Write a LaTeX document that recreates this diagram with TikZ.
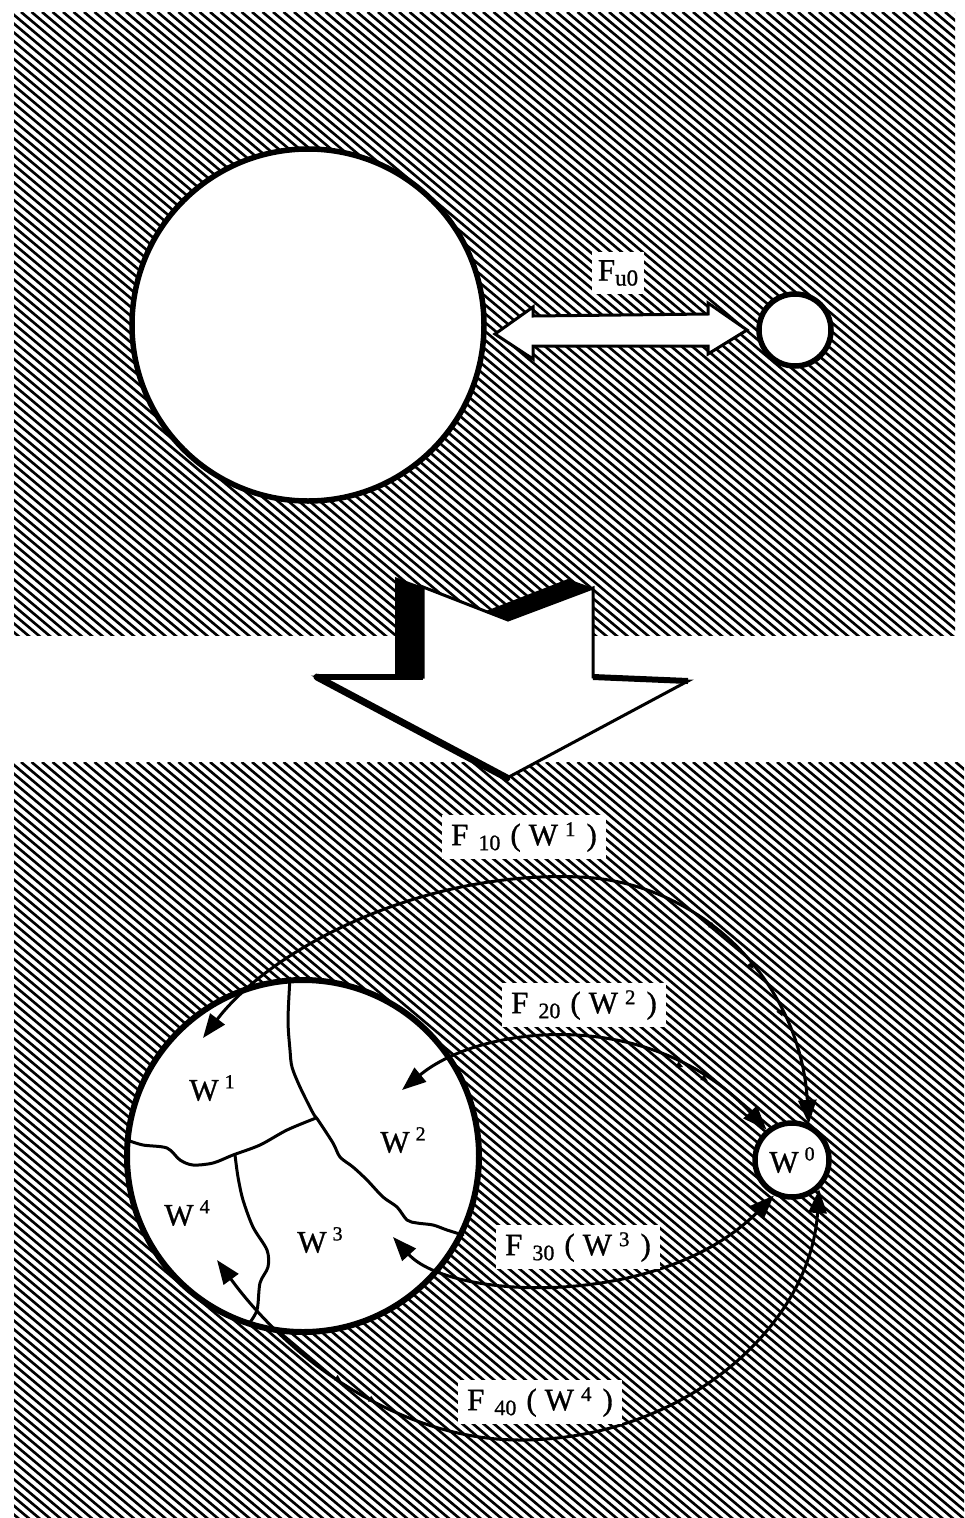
\documentclass[tikz,border=0pt]{standalone}
\usepackage{fontspec}
\setmainfont{Liberation Serif}[FakeBold=1]
\usetikzlibrary{arrows.meta,decorations.markings}
\newcommand{\flab}[2]{F\hspace{10pt}\raisebox{-5pt}{\fontsize{22}{22}\selectfont #1}\hspace{10pt}(\hspace{8pt}W\hspace{7pt}\raisebox{9pt}{\fontsize{21}{21}\selectfont #2}\hspace{11pt})}
\newcommand{\wlab}[1]{W\hspace{6pt}\raisebox{12pt}{\fontsize{20}{20}\selectfont #1}}
\newcommand{\fulab}{F\raisebox{-5pt}{\fontsize{23}{23}\selectfont u0}}
\tikzset{
  hatch/.style={line width=2.6pt, black},
  ring/.style={circle, draw, line width=5.5pt, fill=white, inner sep=0pt},
  crack/.style={line width=3pt, line join=round, line cap=round},
  flow/.style={line width=3pt, {Triangle[length=24pt,width=18pt]}-{Triangle[length=24pt,width=18pt]}},
  barbs/.style={postaction={decorate}, decoration={markings, #1}},
  lbl/.style={fill=white, inner sep=0pt, font=\fontsize{31}{31}\selectfont},
  wl/.style={inner sep=0pt, font=\fontsize{31}{31}\selectfont},
}
\begin{document}
\begin{tikzpicture}[x=1pt,y=-1pt]
\useasboundingbox (0,0) rectangle (964,1518);
\fill[white] (0,0) rectangle (964,1518);
% hatched panels
\begin{scope}
  \clip (14,12) rectangle (955,635);
  \foreach \i in {-73,...,92} { \draw[hatch] (\i*10.5,12) -- ++(800,672); }
\end{scope}
\begin{scope}
  \clip (14,762) rectangle (964,1518);
  \foreach \i in {-88,...,93} { \draw[hatch] (\i*10.5,762) -- ++(1000,840); }
\end{scope}

% ---------- top panel ----------
\node[ring, minimum size=352pt] (c1) at (308,325) {};
\node[ring, minimum size=72pt] (c2) at (795,330) {};
\draw[line width=3pt, fill=white, line join=miter]
  (495,334) -- (533,307) -- (533,316) -- (708,314) -- (708,303) -- (747,330)
  -- (708,354) -- (708,346) -- (533,346) -- (533,359) -- cycle;
\node[lbl, minimum width=52pt, minimum height=42pt] (fu) at (618,273) {\fulab};

% ---------- big down arrow ----------
\coordinate (A) at (423,587);
\coordinate (B) at (508,620);
\coordinate (C) at (593,588);
\coordinate (D) at (593,677);
\coordinate (E) at (688,681);
\coordinate (F) at (507,778);
\coordinate (G) at (317,677);
\coordinate (H) at (423,677);
\fill[black] (395,577) -- (A) -- (H) -- (395,680) -- cycle;
\fill[black] (486,611) -- (568,579) -- (C) -- (B) -- cycle;
\draw[line width=3pt, fill=white, line join=miter] (A) -- (B) -- (C) -- (D) -- (E) -- (F) -- (G) -- (H) -- cycle;
\draw[line width=7pt, line cap=round] (G) -- (F);
\draw[line width=6pt] (G) -- (H);
\draw[line width=6pt] (D) -- (E);

% ---------- bottom panel ----------
\node[ring, line width=6pt, minimum size=352pt] (c3) at (303,1156) {};
\draw[crack] plot[smooth, tension=0.5] coordinates {(290,978) (288,1020) (290,1050) (292,1067) (300,1087) (313,1113) (318,1120) (333,1143) (340,1157) (353,1167) (367,1180) (383,1197) (397,1207) (407,1220) (417,1223) (433,1225) (447,1230) (463,1235)};
\draw[crack] plot[smooth, tension=0.5] coordinates {(127,1140) (143,1145) (167,1148) (180,1160) (193,1165) (213,1163) (233,1155) (260,1145) (287,1130) (316,1118)};
\draw[crack] plot[smooth, tension=0.5] coordinates {(235,1155) (238,1177) (243,1200) (253,1227) (267,1250) (268,1267) (260,1283) (257,1310) (248,1325)};

\node[wl] (w1) at (212,1088) {\wlab{1}};
\node[wl] (w2) at (403,1140) {\wlab{2}};
\node[wl] (w3) at (320,1240) {\wlab{3}};
\node[wl] (w4) at (187,1213) {\wlab{4}};

\node[ring, minimum size=74pt, font=\fontsize{31}{31}\selectfont] (w0) at (792,1160) {\wlab{0}};

\coordinate (a1) at (203,1038);
\coordinate (a2) at (402,1090);
\coordinate (a3) at (393,1237);
\coordinate (a4) at (217,1260);

\draw[flow, barbs={mark=at position 0.72 with {\arrow{Triangle[length=7pt,width=6pt]}}, mark=at position 0.79 with {\arrow{Triangle[length=7pt,width=6pt]}}, mark=at position 0.86 with {\arrow{Triangle[length=7pt,width=6pt]}}}]
  (a1) .. controls (270,950) and (420,870) .. (580,877) .. controls (700,882) and (800,980) .. (w0.65);
\draw[flow, barbs={mark=at position 0.74 with {\arrow{Triangle[length=7pt,width=6pt]}}, mark=at position 0.81 with {\arrow{Triangle[length=7pt,width=6pt]}}}]
  (a2) .. controls (480,1025) and (650,1005) .. (w0.130);
\draw[flow] (a3) .. controls (450,1300) and (660,1310) .. (w0.243);
\draw[flow, barbs={mark=at position 0.22 with {\arrow{Triangle[length=7pt,width=6pt]}}, mark=at position 0.27 with {\arrow{Triangle[length=7pt,width=6pt]}}}]
  (a4) .. controls (290,1360) and (400,1440) .. (520,1440) .. controls (680,1440) and (810,1330) .. (w0.313);

\node[lbl, minimum width=164pt, minimum height=44pt] (f10) at (524,837) {\flab{10}{1}};
\node[lbl, minimum width=164pt, minimum height=44pt] (f20) at (584,1005) {\flab{20}{2}};
\node[lbl, minimum width=164pt, minimum height=44pt] (f30) at (578,1247) {\flab{30}{3}};
\node[lbl, minimum width=164pt, minimum height=44pt] (f40) at (540,1402) {\flab{40}{4}};
\end{tikzpicture}
\end{document}
